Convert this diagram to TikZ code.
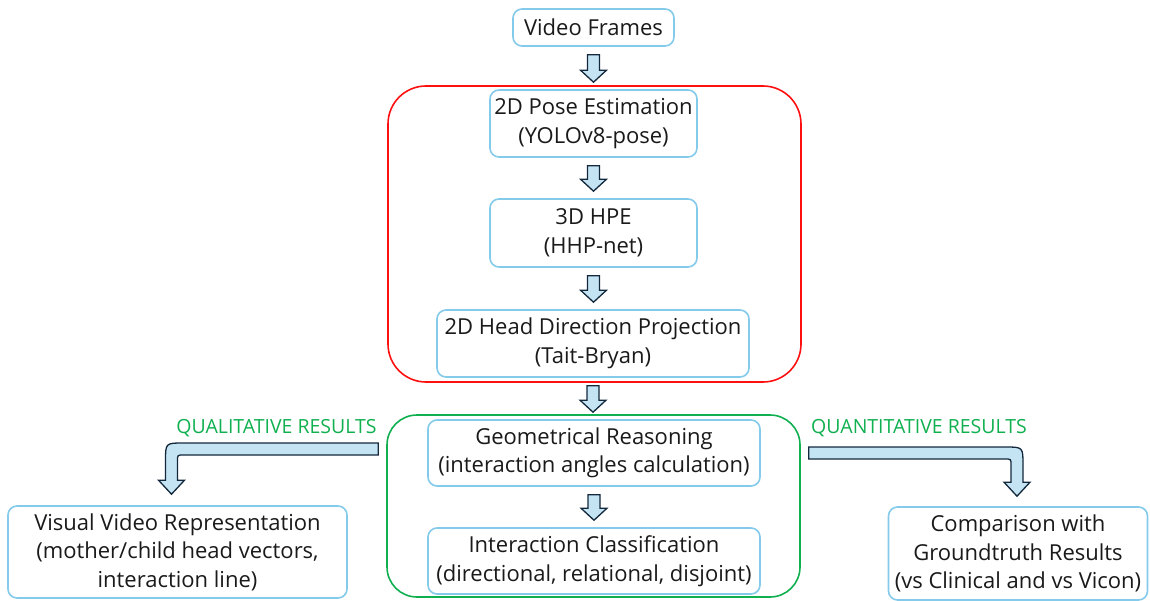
\documentclass[tikz,border=0pt]{standalone}
\usepackage{fontspec}
\setmainfont{Open Sans}
\usetikzlibrary{calc}
\definecolor{boxline}{HTML}{83CAEB}
\definecolor{arrowfill}{HTML}{C4E4F4}
\definecolor{arrowline}{HTML}{14283C}
\definecolor{groupred}{HTML}{FF1010}
\definecolor{groupgreen}{HTML}{10B050}
\definecolor{ink}{HTML}{1A1A1A}

% straight block arrow pointing down, between two named nodes
\newcommand\flowarrow[2]{%
  \draw[blockarrow] let \p1=($(#1.south)+(0,8)$), \p2=($(#2.north)+(0,-7)$) in
    (\x1-6pt,\y1) -- (\x1+6pt,\y1) -- (\x1+6pt,\y2+12pt) -- (\x1+13pt,\y2+12pt)
    -- (\x1,\y2) -- (\x1-13pt,\y2+12pt) -- (\x1-6pt,\y2+12pt) -- cycle;}

\begin{document}
\begin{tikzpicture}[x=1pt,y=-1pt,
  stage/.style={draw=boxline, line width=1.6pt, rounded corners=9pt, fill=white,
    align=center, font=\fontsize{22}{28.5}\selectfont, text=ink, inner sep=0pt},
  group/.style={line width=1.6pt, rounded corners=#1, inner sep=0pt},
  blockarrow/.style={draw=arrowline, line width=1.3pt, fill=arrowfill, line join=miter},
  lbl/.style={text=groupgreen, font=\fontsize{19.5}{22}\selectfont, inner sep=0pt}]
\useasboundingbox (0,0) rectangle (1150,601);

% grouping frames
\node[group=38pt, draw=groupred, minimum width=413pt, minimum height=296pt] (redgroup) at (594.5,234) {};
\node[group=30pt, draw=groupgreen, minimum width=413pt, minimum height=182pt] (greengroup) at (593.5,506) {};

% processing stages
\node[stage, minimum width=161pt, minimum height=37pt] (video) at (593.5,27.5) {Video Frames};
\node[stage, minimum width=207pt, minimum height=67pt] (pose) at (593.5,123.5) {2D Pose Estimation\\(YOLOv8-pose)};
\node[stage, minimum width=207pt, minimum height=68pt] (hpe) at (593.5,233) {3D HPE\\(HHP-net)};
\node[stage, minimum width=312pt, minimum height=67pt] (head) at (593,343.5) {2D Head Direction Projection\\(Tait-Bryan)};
\node[stage, minimum width=332pt, minimum height=66pt] (geom) at (594,453) {Geometrical Reasoning\\(interaction angles calculation)};
\node[stage, minimum width=332pt, minimum height=66pt] (cls) at (594,561) {Interaction Classification\\(directional, relational, disjoint)};
\node[stage, minimum width=339pt, minimum height=92pt] (visual) at (177.5,552) {Visual Video Representation\\(mother/child head vectors,\\interaction line)};
\node[stage, minimum width=259pt, minimum height=93pt] (comp) at (1018,553.5) {Comparison with\\Groundtruth Results\\(vs Clinical and vs Vicon)};

% branch labels
\node[lbl] (qual) at (276.5,428) {QUALITATIVE RESULTS};
\node[lbl] (quant) at (919,428) {QUANTITATIVE RESULTS};

% main flow
\flowarrow{video}{pose}
\flowarrow{pose}{hpe}
\flowarrow{hpe}{head}
\flowarrow{head}{geom}
\flowarrow{geom}{cls}

% bent arrow to the qualitative output
\draw[blockarrow] let \p1=($(greengroup.west |- geom.center)+(-8,-4)$), \p2=($(visual.north)+(-6,-11)$) in
  (\x1,\y1+6pt) -- (\x2+12pt,\y1+6pt) .. controls (\x2-6pt,\y1+6pt) .. (\x2-6pt,\y1-12pt)
  -- (\x2-6pt,\y2+14pt) -- (\x2-13pt,\y2+14pt) -- (\x2,\y2) -- (\x2+13pt,\y2+14pt)
  -- (\x2+6pt,\y2+14pt) -- (\x2+6pt,\y1-12pt) .. controls (\x2+6pt,\y1-6pt) .. (\x2+12pt,\y1-6pt)
  -- (\x1,\y1-6pt) -- cycle;

% bent arrow to the quantitative output
\draw[blockarrow] let \p1=($(greengroup.east |- geom.center)+(8,0)$), \p2=($(comp.north)+(-1,-10)$) in
  (\x1,\y1+6pt) -- (\x2-12pt,\y1+6pt) .. controls (\x2+6pt,\y1+6pt) .. (\x2+6pt,\y1-12pt)
  -- (\x2+6pt,\y2+14pt) -- (\x2+13pt,\y2+14pt) -- (\x2,\y2) -- (\x2-13pt,\y2+14pt)
  -- (\x2-6pt,\y2+14pt) -- (\x2-6pt,\y1-12pt) .. controls (\x2-6pt,\y1-6pt) .. (\x2-12pt,\y1-6pt)
  -- (\x1,\y1-6pt) -- cycle;
\end{tikzpicture}
\end{document}
